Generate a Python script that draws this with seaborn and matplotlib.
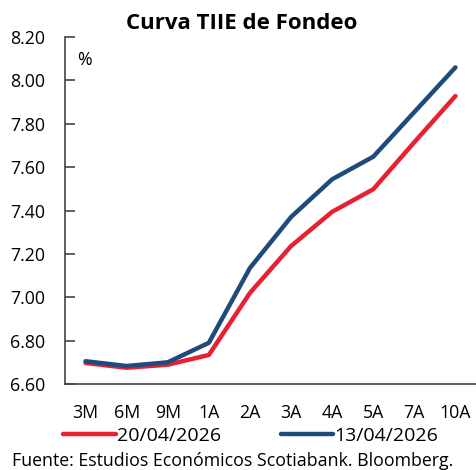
import numpy as np
import pandas as pd
import matplotlib
matplotlib.use('Agg')
import matplotlib.pyplot as plt
import seaborn as sns

#------------------------------------------------
plazos=['3M', '6M', '9M', '1A', '2A', '3A', '4A', '5A', '7A', '10A']
tiie_20abr=[6.697, 6.675, 6.689, 6.734, 7.02, 7.236, 7.394, 7.498, 7.715, 7.928]
tiie_13abr=[6.705, 6.683, 6.70, 6.79, 7.135, 7.37, 7.544, 7.648, 7.854, 8.06]
fechas=['20/04/2026', '13/04/2026']
colores=['#E8202F', '#1F4A7C']
yticks=[6.60, 6.80, 7.00, 7.20, 7.40, 7.60, 7.80, 8.00, 8.20]

#########################################################
sns.set_style('white')
plt.rcParams['font.family']=['Open Sans', 'DejaVu Sans']
plt.rcParams['text.color']='black'
plt.rcParams['xtick.labelcolor']='black'
plt.rcParams['ytick.labelcolor']='black'

df=pd.DataFrame({'plazo': plazos*2,
                 'tasa': tiie_20abr+tiie_13abr,
                 'fecha': [fechas[0]]*len(plazos)+[fechas[1]]*len(plazos)})
df['x']=np.tile(np.arange(len(plazos)), 2)

fig=plt.figure(figsize=(4.76, 4.70), dpi=100)
ax=fig.add_axes([65/476, 86/470, 411/476, 347/470])

sns.lineplot(data=df, x='x', y='tasa', hue='fecha', hue_order=fechas,
             palette=colores, lw=3.2, ax=ax, legend=False)

#axes
ax.set_xlim(-0.5, len(plazos)-0.5)
ax.set_ylim(6.60, 8.20)
ax.set_yticks(yticks)
ax.set_yticklabels([f'{v:.2f}' for v in yticks], fontsize=12.8)
ax.set_xticks(np.arange(len(plazos)+1)-0.5)
ax.set_xticklabels([])
ax.set_xticks(np.arange(len(plazos)), minor=True)
ax.set_xticklabels(plazos, minor=True, fontsize=12.8)
ax.tick_params(axis='x', which='major', direction='out', length=5, width=1.2, color='#444444')
ax.tick_params(axis='x', which='minor', length=0, pad=14.5)
ax.tick_params(axis='y', direction='in', length=7, width=1.2, color='#444444', pad=14, left=True)
ax.set_xlabel('')
ax.set_ylabel('')
for s in ['top', 'right']:
    ax.spines[s].set_visible(False)
for s in ['left', 'bottom']:
    ax.spines[s].set_color('#444444')
    ax.spines[s].set_linewidth(1.2)

ax.text(0.03, 0.935, '%', transform=ax.transAxes, fontsize=12.8, ha='left', va='center')

#title
fig.text(0.508, 0.951, 'Curva TIIE de Fondeo', fontsize=16, weight='bold', ha='center', va='center')

#legend
handles=[plt.Line2D([], [], color=c, lw=3.2) for c in colores]
fig.legend(handles, fechas, loc='center', bbox_to_anchor=(0.527, 0.072), ncol=2,
           frameon=False, fontsize=14, handlelength=2.7, handletextpad=0.08,
           columnspacing=3.05)

#source
fig.text(0.025, 0.02, 'Fuente: Estudios Económicos Scotiabank. Bloomberg.', fontsize=12.8,
         ha='left', va='center')

plt.savefig('out.png', dpi=100)
plt.close()
